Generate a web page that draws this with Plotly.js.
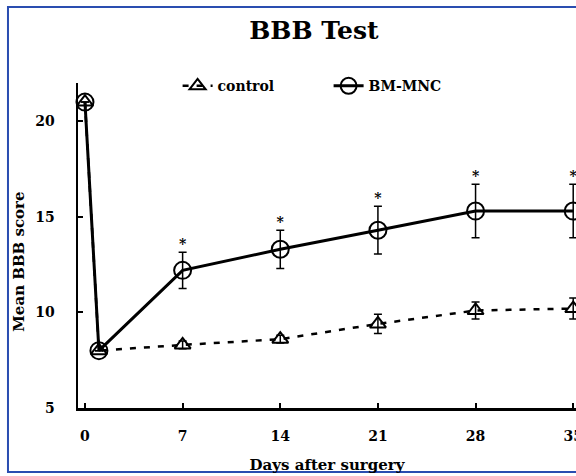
<!DOCTYPE html>
<html>
<head>
<meta charset="utf-8">
<script src="https://cdn.plot.ly/plotly-3.0.1.min.js"></script>
<style>
html,body{margin:0;padding:0;background:#fff;}
#chart{width:576px;height:476px;}
</style>
</head>
<body>
<div id="chart"></div>
<script>
// Data
const days = [0, 1, 7, 14, 21, 28, 35];
const controlMean = [21.0, 8.0, 8.3, 8.6, 9.4, 10.1, 10.2];
const controlSD   = [0, 0, 0.2, 0.2, 0.5, 0.45, 0.55];
const bmMean      = [21.0, 8.0, 12.2, 13.3, 14.3, 15.3, 15.3];
const bmSD        = [0, 0, 0.95, 1.0, 1.25, 1.4, 1.4];
const starDays    = [7, 14, 21, 28, 35];
const starLabels  = ['*', '*', '*', '*', '*'];
const xTicks      = [0, 7, 14, 21, 28, 35];
const yTicks      = [5, 10, 15, 20];

const FONT = 'DejaVu Serif, Liberation Serif, serif';

const starY = starDays.map(d => {
  const i = days.indexOf(d);
  return bmMean[i] + bmSD[i];
});

const traces = [
  {
    x: days, y: controlMean, name: 'control', type: 'scatter', mode: 'lines+markers',
    line: {color: '#000', width: 2.5, dash: '6px,8px'},
    marker: {symbol: 'triangle-up-open', size: 14, color: '#000', line: {width: 2, color: '#000'}},
    error_y: {type: 'data', array: controlSD, visible: true, color: '#000', thickness: 1.5, width: 4},
    cliponaxis: false
  },
  {
    x: days, y: bmMean, name: 'BM-MNC', type: 'scatter', mode: 'lines+markers',
    line: {color: '#000', width: 3},
    marker: {symbol: 'circle-open', size: 17, color: '#000', line: {width: 2, color: '#000'}},
    error_y: {type: 'data', array: bmSD, visible: true, color: '#000', thickness: 1.5, width: 4},
    cliponaxis: false
  },
  {
    x: starDays, y: starY, text: starLabels, type: 'scatter', mode: 'text',
    textposition: 'top center', showlegend: false, hoverinfo: 'skip',
    textfont: {family: FONT, size: 14, color: '#000', weight: 'bold'},
    cliponaxis: false
  }
];

const layout = {
  width: 576, height: 476,
  margin: {l: 78, r: 0, t: 83, b: 68, autoexpand: false},
  paper_bgcolor: '#fff', plot_bgcolor: '#fff',
  font: {family: FONT, color: '#000', weight: 'bold'},
  title: {
    text: '<b>BBB Test</b>', x: 0.545, xref: 'container', xanchor: 'center',
    y: 0.937, yref: 'container', yanchor: 'middle',
    font: {family: FONT, size: 25, color: '#000'}
  },
  xaxis: {
    range: [-0.5, 35.2], tickvals: xTicks, ticktext: xTicks.map(String),
    automargin: false, ticklabeloverflow: 'allow',
    showline: true, linecolor: '#000', linewidth: 2.5, mirror: false,
    ticks: 'inside', ticklen: 5, tickwidth: 2, tickcolor: '#000',
    showgrid: false, zeroline: false, ticklabelstandoff: 14,
    tickfont: {family: FONT, size: 14, color: '#000', weight: 'bold'},
    title: {text: '<b>Days after surgery</b>', standoff: 16, font: {family: FONT, size: 15, color: '#000'}}
  },
  yaxis: {
    range: [5, 22], tickvals: yTicks, ticktext: yTicks.map(String),
    automargin: false,
    showline: true, linecolor: '#000', linewidth: 2.5,
    ticks: 'inside', ticklen: 5, tickwidth: 2, tickcolor: '#000',
    showgrid: false, zeroline: false, ticklabelstandoff: 18,
    tickfont: {family: FONT, size: 14, color: '#000', weight: 'bold'}
  },
  legend: {
    orientation: 'h', x: 0.2, xanchor: 'left', y: 0.99, yanchor: 'middle',
    entrywidth: 106,
    bgcolor: 'rgba(0,0,0,0)', font: {family: FONT, size: 14, color: '#000', weight: 'bold'},
    traceorder: 'normal'
  },
  annotations: [{
    text: '<b>Mean BBB score</b>', textangle: -90, xref: 'paper', yref: 'paper',
    x: -0.1185, y: 0.45, xanchor: 'center', yanchor: 'middle', showarrow: false,
    font: {family: FONT, size: 15, color: '#000'}
  }],
  shapes: [{
    type: 'rect', xref: 'paper', yref: 'paper',
    x0: -0.1406, x1: 1.05, y0: -0.197, y1: 1.234,
    line: {color: '#2a4db0', width: 2}, fillcolor: 'rgba(0,0,0,0)', layer: 'below'
  }],
  showlegend: true
};

Plotly.newPlot('chart', traces, layout, {displayModeBar: false, staticPlot: true});
</script>
</body>
</html>
